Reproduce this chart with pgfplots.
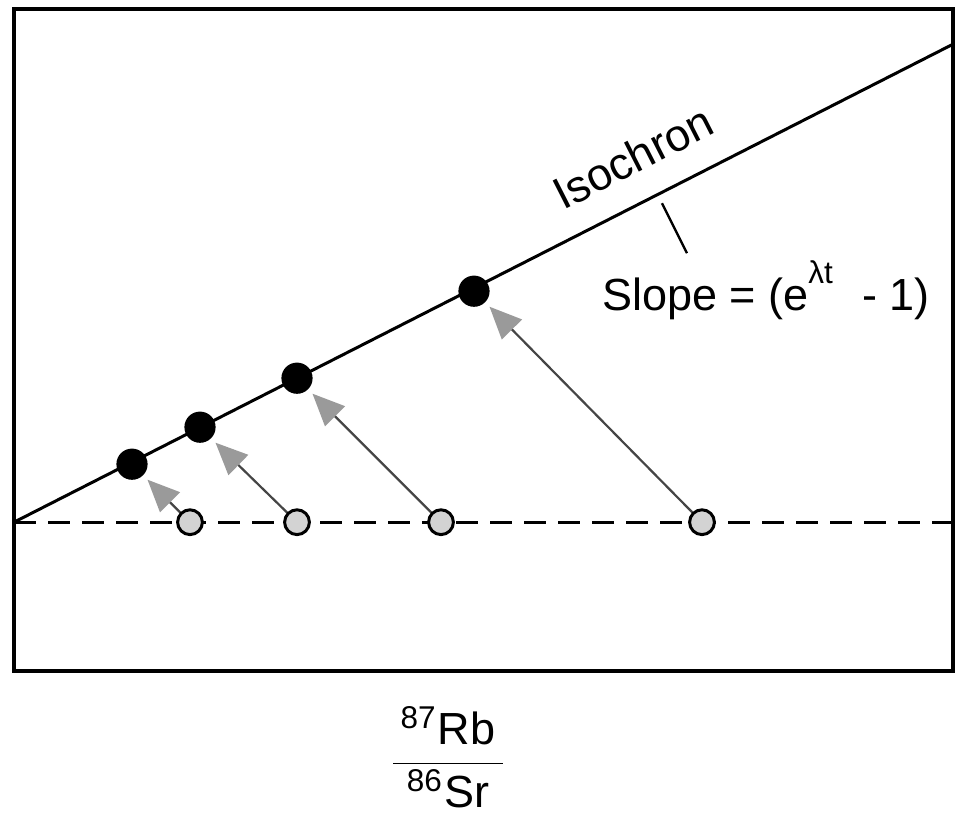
\documentclass[border=0pt]{standalone}
\usepackage{pgfplots}
\pgfplotsset{compat=1.18}
\usepackage{fontspec}
\setmainfont{Liberation Sans}
\usetikzlibrary{arrows.meta}
\definecolor{ptgray}{HTML}{D3D3D3}
\definecolor{headgray}{HTML}{9A9A9A}
\definecolor{shaftgray}{HTML}{454545}
\begin{document}
\begin{tikzpicture}
\begin{axis}[
  scale only axis,
  width=234.75pt, height=165.5pt,
  xmin=0, xmax=939, ymin=0, ymax=662,
  axis line style={black, line width=0.85pt},
  xtick=\empty, ytick=\empty,
  clip=false,
  font=\fontsize{11.25}{13}\selectfont,
]
% initial ratio line (dashed)
\addplot[black, line width=0.75pt, dash pattern=on 5.5pt off 3pt, no marks] coordinates {(0,149) (939,149)};
% isochron
\addplot[black, line width=0.75pt, no marks] coordinates {(0,149) (939,627)};
% pointer tick
\addplot[black, line width=0.6pt, no marks] coordinates {(648,468) (673,418)};
% arrows
\addplot[shaftgray, line width=0.55pt, no marks, -{Triangle[length=8pt,width=7pt,fill=headgray,color=headgray]}] coordinates {(176,149) (133.5,191.5)};
\addplot[shaftgray, line width=0.55pt, no marks, -{Triangle[length=8pt,width=7pt,fill=headgray,color=headgray]}] coordinates {(283,149) (201.5,228.5)};
\addplot[shaftgray, line width=0.55pt, no marks, -{Triangle[length=8pt,width=7pt,fill=headgray,color=headgray]}] coordinates {(427,149) (298.5,277.5)};
\addplot[shaftgray, line width=0.55pt, no marks, -{Triangle[length=8pt,width=7pt,fill=headgray,color=headgray]}] coordinates {(688,149) (475.5,364.5)};
% initial samples
\addplot[only marks, mark=*, mark size=3.1pt, mark options={fill=ptgray, draw=black, line width=0.75pt}] coordinates {(176,149) (283,149) (427,149) (688,149)};
% present samples
\addplot[only marks, mark=*, mark size=3.7pt, mark options={fill=black, draw=black}] coordinates {(118,207) (186,244) (283,293) (460,380)};
\node[rotate=27] at (axis cs:619,514) {Isochron};
\node at (axis cs:752,381) {Slope = (e\raisebox{0.5ex}{\textsuperscript{λt}}\,\, - 1)};
\node at (axis cs:434,-86) {$\displaystyle\frac{\mbox{\,\textsuperscript{87}Rb\,}}{\mbox{\,\textsuperscript{86}Sr\,}}$};
\end{axis}
\path[use as bounding box] ([xshift=-3.5pt,yshift=2.3pt]current axis.north west) rectangle ++(239pt,-202.5pt);
\end{tikzpicture}
\end{document}
